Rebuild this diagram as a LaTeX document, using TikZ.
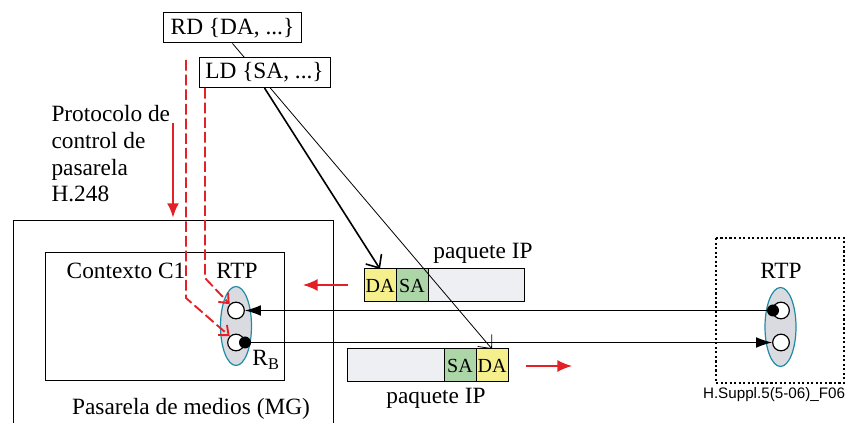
\documentclass[tikz,border=0pt]{standalone}
\usepackage{fontspec}
\setmainfont{Liberation Serif}
\newfontfamily\figfont{Liberation Sans}
\usetikzlibrary{shapes.geometric, arrows.meta, positioning}
\definecolor{ctrlred}{RGB}{226,32,38}
\definecolor{dayellow}{RGB}{246,240,140}
\definecolor{sagreen}{RGB}{172,214,168}
\definecolor{pktgrey}{RGB}{238,239,242}
\definecolor{rtpgrey}{RGB}{218,219,224}
\definecolor{rtpteal}{RGB}{30,140,165}

\tikzset{
    lbl/.style={inner sep=0pt, font=\fontsize{17.5}{20}\selectfont},
    dbox/.style={draw, fill=white, minimum height=22.5pt, inner sep=0pt, font=\fontsize{17.5}{20}\selectfont},
    fld/.style={draw, minimum width=24pt, minimum height=24.75pt, inner sep=0pt, outer sep=0pt, font=\fontsize{15}{17}\selectfont},
    rtpell/.style={ellipse, draw=rtpteal, fill=rtpgrey, line width=0.9pt, minimum width=23.25pt, minimum height=59.25pt, inner sep=0pt},
    port/.style={circle, draw, fill=white, line width=0.9pt, minimum size=12.5pt, inner sep=0pt},
    blob/.style={circle, fill=black, minimum size=9pt, inner sep=0pt},
    ctrl/.style={ctrlred, line width=1.4pt, dash pattern=on 8pt off 3pt, -{Straight Barb[length=6pt,width=10pt,line width=1.4pt]}},
    redarr/.style={ctrlred, -{Latex[length=11pt,width=9pt]}},
    flow/.style={-{Latex[length=12pt,width=8pt]}},
    addr/.style={-{Straight Barb[length=8pt,width=14pt]}}
}

\begin{document}
\begin{tikzpicture}[x=0.75pt, y=-0.75pt, line width=0.75pt]
    \clip (0,0) rectangle (846,423);
    % descriptors
    \node[dbox, minimum width=104pt] (RD) at (232.5,28) {RD \{DA, ...\}};
    % media gateway
    \draw (13,440) |- (333,221) -- (333,440);
    \draw (45,253) rectangle (284,381);
    \node[lbl] (ctx) at (126,271) {Contexto C1};
    \node[lbl] (mg) at (191,409) {Pasarela de medios (MG)};
    \node[lbl, align=left, anchor=west] (proto) at (51,154) {Protocolo de\\control de\\pasarela\\H.248};
    % left RTP
    \node[lbl] (lrtp) at (237,271) {RTP};
    \node[rtpell] (lell) at (236,326) {};
    \node[port] (la) at (236,310.5) {};
    \node[port] (lb) at (236,342.5) {};
    \node[blob] (ldot) at (245,342.5) {};
    \node[lbl] (rb) at (266,360) {R\textsubscript{B}};
    % right RTP
    \draw[line width=1.1pt, dash pattern=on 1.6pt off 1.8pt] (716,238) rectangle (844,383);
    \node[lbl] (rrtp) at (781,271) {RTP};
    \node[rtpell] (rell) at (780.5,327) {};
    \node[port] (ra) at (781,310.5) {};
    \node[port] (rbp) at (781,342.5) {};
    \node[blob] (rdot) at (773,310.5) {};
    \node[font=\figfont\fontsize{11.4}{13}\selectfont, inner sep=0pt] (fig) at (774,395) {H.Suppl.5(5-06)\_F06};
    % packets
    \node[fld, fill=dayellow, anchor=west] (da1) at (364,285.5) {DA};
    \node[fld, fill=sagreen, right=0pt of da1] (sa1) {SA};
    \node[fld, fill=pktgrey, minimum width=72pt, right=0pt of sa1] (pay1) {};
    \node[lbl] (pkt1) at (483,253) {paquete IP};
    \node[fld, fill=pktgrey, minimum width=72.75pt, anchor=west] (pay2) at (347,365.5) {};
    \node[fld, fill=sagreen, right=0pt of pay2] (sa2) {SA};
    \node[fld, fill=dayellow, right=0pt of sa2] (da2) {DA};
    \node[lbl] (pkt2) at (436,398) {paquete IP};
    % media flows
    \draw[flow] (rdot.center) -- (la);
    \draw[flow] (ldot.center) -- (rbp);
    \coordinate (in0) at (348,285);
    \coordinate (in1) at (303,285);
    \coordinate (out0) at (526,366);
    \coordinate (out1) at (572,366);
    \draw[redarr, line width=1.1pt] (in0) -- (in1);
    \draw[redarr, line width=1.1pt] (out0) -- (out1);
    % descriptor to address
    \draw[addr, line width=0.6pt] (RD.south) -- (da2.north);
    \node[dbox, minimum width=98.25pt] (LD) at (264.5,72.5) {LD \{SA, ...\}};
    \draw[addr, line width=1.2pt] (LD.south) -- (da1.north);
    % control
    \coordinate (c1) at (186,60);
    \coordinate (c2) at (205,88);
    \draw[ctrl] (c1) -- (186,298) -- (lb.135);
    \draw[ctrl] (c2) -- (205,278) -- (la.135);
    \coordinate (p0) at (173,123);
    \coordinate (p1) at (173,218);
    \draw[redarr, line width=2pt] (p0) -- (p1);
\end{tikzpicture}
\end{document}
